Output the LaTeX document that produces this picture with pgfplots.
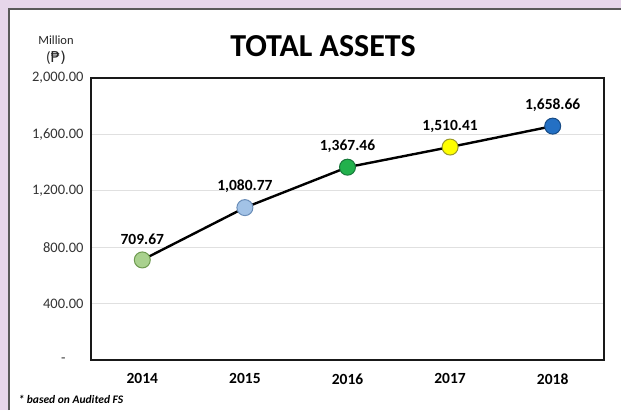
\documentclass[border=0pt]{standalone}
\usepackage{fontspec}
\setmainfont{Carlito}
\newfontfamily\dejavu{DejaVu Sans}
\usepackage{pgfplots}
\pgfplotsset{compat=1.18}

\definecolor{bgpurple}{HTML}{E6D6EA}
\definecolor{c14}{HTML}{A9D18E}\definecolor{d14}{HTML}{6E9A50}
\definecolor{c15}{HTML}{A2C2E6}\definecolor{d15}{HTML}{6A8DB8}
\definecolor{c16}{HTML}{22B14C}\definecolor{d16}{HTML}{17783A}
\definecolor{c17}{HTML}{FFFF00}\definecolor{d17}{HTML}{9A9A2A}
\definecolor{c18}{HTML}{2470C4}\definecolor{d18}{HTML}{184C86}

\begin{document}
\begin{tikzpicture}[x=1pt,y=1pt]
    \useasboundingbox (0,0) rectangle (621,410);
    % background and white panel
    \fill[bgpurple] (0,0) rectangle (621,410);
    \fill[white] (9,0) rectangle (621,401);
    \draw[black!65, line width=1.8pt] (9,0) -- (9,401) -- (621,401);

    \node[anchor=base, font=\fontsize{32}{36}\selectfont\bfseries] at (323,353) {TOTAL ASSETS};
    \node[anchor=base, font=\fontsize{12.5}{14}\selectfont, text=black!85] at (56,365) {Million};
    \node[anchor=base, font=\fontsize{15}{17}\selectfont, text=black!85] at (56,347) {(\dejavu ₱)};
    \node[anchor=base west, font=\fontsize{11.5}{13}\selectfont\bfseries\itshape] at (15,7) {* based on Audited FS};

    \begin{axis}[
            at={(91pt,50pt)}, anchor=south west,
            width=513pt, height=282pt, scale only axis,
            xmin=-0.5, xmax=4.5, ymin=0, ymax=2000,
            xtick={0,1,2,3,4},
            xticklabels={2014,2015,2016,2017,2018},
            ytick={0,400,800,1200,1600,2000},
            yticklabels={{-\hspace*{18pt}},{400.00},{800.00},{1,200.00},{1,600.00},{2,000.00}},
            major tick length=0pt,
            xticklabel style={font=\fontsize{15.5}{17}\selectfont\bfseries, yshift=-10pt},
            yticklabel style={font=\fontsize{14.5}{16}\selectfont, text=black!80, xshift=-4pt},
            ymajorgrids, major grid style={black!12, line width=1pt},
            axis line style={black!90, line width=1.8pt},
            clip=false,
            nodes near coords,
            every node near coord/.append style={
                    font=\fontsize{15.5}{17}\selectfont\bfseries,
                    anchor=center, yshift=21pt,
                    /pgf/number format/.cd, fixed, fixed zerofill, precision=2, 1000 sep={,}, assume math mode=true
                },
        ]
        \addplot[black, line width=2.4pt, no marks, nodes near coords=]
        coordinates {(0,709.67) (1,1080.77) (2,1367.46) (3,1510.41) (4,1658.66)};
        \addplot[only marks, mark=*, mark size=8pt, mark options={fill=c14, draw=d14, line width=1pt}]
        coordinates {(0,709.67)};
        \addplot[only marks, mark=*, mark size=8pt, mark options={fill=c15, draw=d15, line width=1pt}]
        coordinates {(1,1080.77)};
        \addplot[only marks, mark=*, mark size=8pt, mark options={fill=c16, draw=d16, line width=1pt}]
        coordinates {(2,1367.46)};
        \addplot[only marks, mark=*, mark size=8pt, mark options={fill=c17, draw=d17, line width=1pt}]
        coordinates {(3,1510.41)};
        \addplot[only marks, mark=*, mark size=8pt, mark options={fill=c18, draw=d18, line width=1pt}]
        coordinates {(4,1658.66)};
    \end{axis}
\end{tikzpicture}
\end{document}
